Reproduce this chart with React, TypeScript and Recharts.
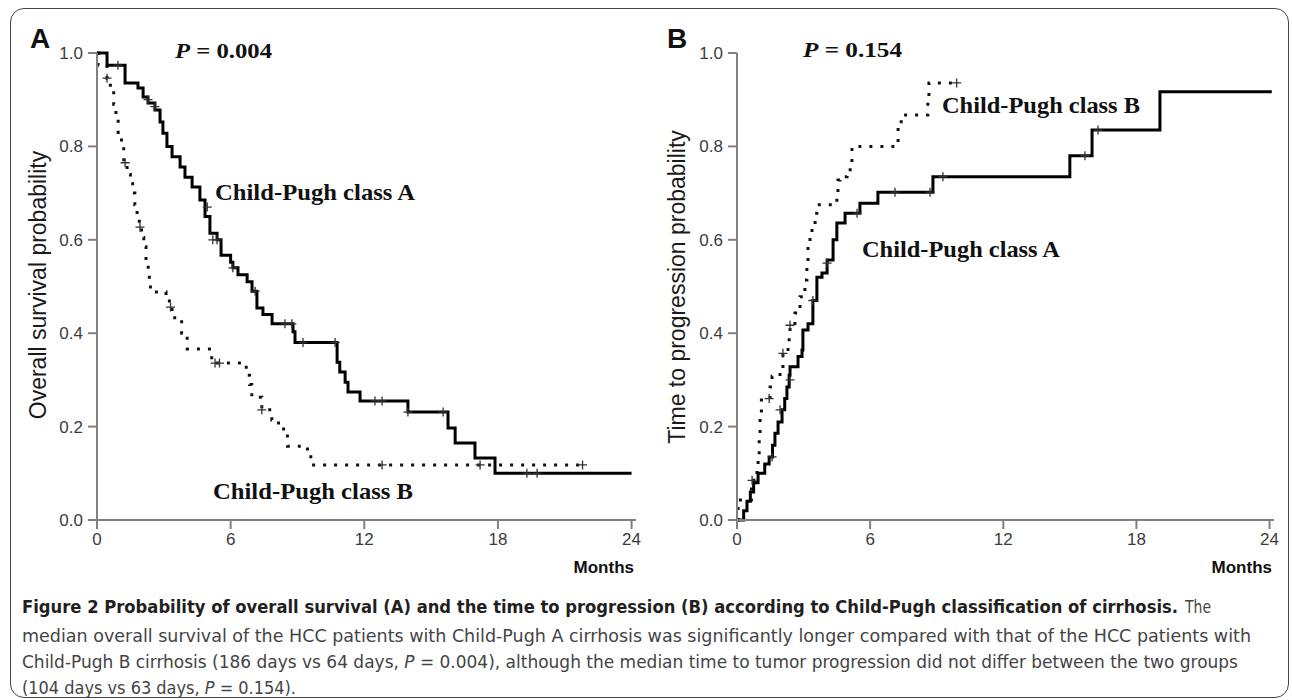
import React from "react";
import { ComposedChart, Line, Scatter, XAxis, YAxis } from "recharts";

type Pt = { t: number; s: number };
const toPts = (rows: number[][]): Pt[] => rows.map(([t, s]) => ({ t, s }));

const monthTicks = [0, 6, 12, 18, 24];
const probTicks = [0, 0.2, 0.4, 0.6, 0.8, 1.0];

// Panel A: overall survival, [month, probability]
const osClassA = toPts([
  [0, 1.0], [0.45, 0.974], [1.26, 0.936], [1.84, 0.925], [2.07, 0.906], [2.29, 0.893],
  [2.6, 0.878], [2.83, 0.852], [2.96, 0.828], [3.14, 0.8], [3.37, 0.778], [3.73, 0.756],
  [3.95, 0.734], [4.27, 0.713], [4.62, 0.685], [4.85, 0.65], [5.07, 0.614], [5.39, 0.6],
  [5.57, 0.567], [6.0, 0.552], [6.1, 0.54], [6.33, 0.525], [6.74, 0.51], [6.96, 0.49],
  [7.18, 0.454], [7.45, 0.44], [7.86, 0.42], [8.8, 0.403], [8.89, 0.38], [10.78, 0.338],
  [10.9, 0.317], [11.14, 0.295], [11.27, 0.274], [11.81, 0.255], [13.96, 0.231],
  [15.76, 0.197], [16.08, 0.165], [16.97, 0.133], [17.87, 0.1], [24.0, 0.1],
]);
const osClassB = toPts([
  [0, 1.0], [0.05, 0.974], [0.45, 0.946], [0.6, 0.92], [0.75, 0.89], [0.85, 0.86],
  [0.95, 0.83], [1.1, 0.8], [1.2, 0.765], [1.35, 0.74], [1.5, 0.72], [1.6, 0.7],
  [1.7, 0.675], [1.8, 0.65], [1.9, 0.627], [2.0, 0.605], [2.1, 0.585], [2.2, 0.56],
  [2.3, 0.535], [2.35, 0.514], [2.4, 0.488], [3.1, 0.475], [3.25, 0.456], [3.37, 0.433],
  [3.8, 0.4], [4.05, 0.366], [5.15, 0.336], [6.7, 0.31], [6.85, 0.29], [6.95, 0.263],
  [7.4, 0.236], [7.85, 0.214], [8.15, 0.195], [8.55, 0.158], [9.45, 0.139], [9.6, 0.118],
  [22.0, 0.118],
]);
const osCensorA = toPts([
  [0.94, 0.974], [2.29, 0.9], [2.6, 0.885], [4.95, 0.67], [5.2, 0.6], [5.39, 0.6],
  [6.1, 0.54], [7.1, 0.49], [8.44, 0.42], [8.75, 0.42], [9.25, 0.38], [10.69, 0.38],
  [12.48, 0.255], [12.8, 0.255], [13.96, 0.231], [15.54, 0.231], [19.3, 0.1], [19.76, 0.1],
]);
const osCensorB = toPts([
  [0.45, 0.946], [1.26, 0.765], [1.93, 0.627], [3.3, 0.456], [5.3, 0.336], [5.5, 0.336],
  [7.4, 0.236], [12.8, 0.118], [17.2, 0.118], [21.8, 0.118],
]);

// Panel B: time to progression, [month, probability]
const ttpClassA = toPts([
  [0, 0], [0.3, 0.02], [0.45, 0.04], [0.6, 0.06], [0.75, 0.08], [0.95, 0.1], [1.25, 0.12],
  [1.45, 0.135], [1.6, 0.16], [1.71, 0.186], [1.85, 0.21], [2.03, 0.236], [2.15, 0.26],
  [2.25, 0.285], [2.35, 0.31], [2.39, 0.328], [2.75, 0.35], [2.93, 0.364], [2.97, 0.407],
  [3.2, 0.42], [3.42, 0.47], [3.6, 0.52], [3.83, 0.529], [4.06, 0.557], [4.33, 0.6],
  [4.5, 0.636], [4.87, 0.657], [5.54, 0.678], [6.35, 0.702], [8.83, 0.735], [15.0, 0.78],
  [16.0, 0.835], [19.06, 0.917], [24.1, 0.917],
]);
const ttpClassB = toPts([
  [0, 0], [0.05, 0.043], [0.65, 0.085], [0.9, 0.11], [0.95, 0.135], [1.0, 0.18],
  [1.04, 0.23], [1.1, 0.257], [1.49, 0.285], [1.58, 0.308], [1.94, 0.32], [2.07, 0.357],
  [2.3, 0.38], [2.35, 0.4], [2.39, 0.417], [2.61, 0.443], [2.84, 0.478], [3.06, 0.514],
  [3.15, 0.55], [3.2, 0.593], [3.29, 0.61], [3.38, 0.627], [3.52, 0.657], [3.6, 0.675],
  [4.5, 0.69], [4.55, 0.728], [4.64, 0.735], [4.96, 0.743], [5.1, 0.77], [5.18, 0.8],
  [7.26, 0.842], [7.4, 0.867], [8.6, 0.9], [8.65, 0.936], [9.9, 0.936],
]);
const ttpCensorA = toPts([
  [1.58, 0.135], [1.94, 0.236], [2.39, 0.3], [3.42, 0.47], [4.06, 0.55], [5.41, 0.657],
  [7.12, 0.702], [8.7, 0.702], [9.28, 0.735], [15.68, 0.78], [16.27, 0.835],
]);
const ttpCensorB = toPts([
  [0.68, 0.085], [1.45, 0.26], [2.07, 0.357], [2.39, 0.417], [9.9, 0.936],
]);

const AXIS = "#808080";
const SANS = "'Liberation Sans', Arial, sans-serif";
const SERIF = "'Liberation Serif', 'Times New Roman', serif";
const NARROW = "'Liberation Sans Narrow', 'DejaVu Sans Condensed', 'Roboto Condensed', Roboto, sans-serif";

function CensorMark(props: any) {
  const { cx, cy } = props;
  if (cx == null || cy == null) return null;
  return (
    <path
      d={`M${cx - 4.5},${cy}H${cx + 4.5}M${cx},${cy - 4.5}V${cy + 4.5}`}
      stroke="#333"
      strokeWidth={1.3}
      fill="none"
    />
  );
}

interface PanelProps {
  left: number;
  width: number;
  right: number;
  solid: Pt[];
  dotted: Pt[];
  solidCensor: Pt[];
  dottedCensor: Pt[];
}

function KMPanel({ left, width, right, solid, dotted, solidCensor, dottedCensor }: PanelProps) {
  const tick = { fontFamily: SANS, fontSize: 17, fill: "#3c3c3c" };
  return (
    <div style={{ position: "absolute", left, top: 0 }}>
      <ComposedChart
        width={width}
        height={560}
        margin={{ top: 53, right, bottom: 10, left: 37 }}
      >
        <XAxis
          dataKey="t"
          type="number"
          domain={[0, 24.2]}
          ticks={monthTicks}
          height={30}
          tickSize={9}
          tickMargin={4}
          axisLine={{ stroke: AXIS, strokeWidth: 2 }}
          tickLine={{ stroke: AXIS, strokeWidth: 2 }}
          tick={tick}
        />
        <YAxis
          type="number"
          domain={[0, 1]}
          ticks={probTicks}
          width={60}
          tickSize={9}
          tickMargin={5}
          tickFormatter={(v: number) => v.toFixed(1)}
          axisLine={{ stroke: AXIS, strokeWidth: 2 }}
          tickLine={{ stroke: AXIS, strokeWidth: 2 }}
          tick={tick}
        />
        <Line
          data={dotted}
          dataKey="s"
          type="stepAfter"
          stroke="#111"
          strokeWidth={3}
          strokeDasharray="3 8"
          dot={false}
          isAnimationActive={false}
        />
        <Line
          data={solid}
          dataKey="s"
          type="stepAfter"
          stroke="#000"
          strokeWidth={3}
          dot={false}
          isAnimationActive={false}
        />
        <Scatter data={dottedCensor} dataKey="s" shape={CensorMark} isAnimationActive={false} />
        <Scatter data={solidCensor} dataKey="s" shape={CensorMark} isAnimationActive={false} />
      </ComposedChart>
    </div>
  );
}

export default function App() {
  const serifBold = { fontFamily: SERIF, fontWeight: 700, fontSize: 23, fill: "#111" };
  const pStyle = { fontFamily: SERIF, fontWeight: 700, fontSize: 21, fill: "#111" };
  return (
    <div
      style={{
        position: "absolute",
        left: 0,
        top: 0,
        width: 1292,
        height: 700,
        background: "#fff",
        overflow: "hidden",
      }}
    >
      <div
        style={{
          position: "absolute",
          left: 10,
          top: 8,
          width: 1279,
          height: 690,
          border: "1.5px solid #444",
          borderRadius: 14,
          boxSizing: "border-box",
        }}
      />
      <KMPanel
        left={0}
        width={660}
        right={24}
        solid={osClassA}
        dotted={osClassB}
        solidCensor={osCensorA}
        dottedCensor={osCensorB}
      />
      <KMPanel
        left={640}
        width={652}
        right={18}
        solid={ttpClassA}
        dotted={ttpClassB}
        solidCensor={ttpCensorA}
        dottedCensor={ttpCensorB}
      />
      <svg
        width={1292}
        height={700}
        style={{ position: "absolute", left: 0, top: 0, pointerEvents: "none" }}
      >
        <text x={30} y={48} fontFamily={SANS} fontWeight={700} fontSize={28} fill="#111">A</text>
        <text x={667} y={48} fontFamily={SANS} fontWeight={700} fontSize={28} fill="#111">B</text>

        <text x={175} y={58} {...pStyle} textLength={97} lengthAdjust="spacingAndGlyphs">
          <tspan fontStyle="italic">P</tspan> = 0.004
        </text>
        <text x={803} y={57} {...pStyle} textLength={99} lengthAdjust="spacingAndGlyphs">
          <tspan fontStyle="italic">P</tspan> = 0.154
        </text>

        <text x={215} y={200} {...serifBold} textLength={200} lengthAdjust="spacingAndGlyphs">Child-Pugh class A</text>
        <text x={213} y={499} {...serifBold} textLength={200} lengthAdjust="spacingAndGlyphs">Child-Pugh class B</text>
        <text x={942} y={113} {...serifBold} textLength={198} lengthAdjust="spacingAndGlyphs">Child-Pugh class B</text>
        <text x={862} y={257} {...serifBold} textLength={198} lengthAdjust="spacingAndGlyphs">Child-Pugh class A</text>

        <text
          transform="translate(46,285) rotate(-90)"
          textAnchor="middle"
          fontFamily={SANS}
          fontSize={23}
          fill="#1a1a1a"
        >
          Overall survival probability
        </text>
        <text
          transform="translate(685,287) rotate(-90)"
          textAnchor="middle"
          fontFamily={SANS}
          fontSize={23}
          fill="#1a1a1a"
        >
          Time to progression probability
        </text>

        <text x={634} y={573} textAnchor="end" fontFamily={SANS} fontWeight={700} fontSize={17} fill="#111">Months</text>
        <text x={1272} y={573} textAnchor="end" fontFamily={SANS} fontWeight={700} fontSize={17} fill="#111">Months</text>

        <text x={22} y={613} fontFamily={NARROW} fontWeight={700} fontSize={18} fill="#231f20" textLength={1156} lengthAdjust="spacingAndGlyphs">
          Figure 2 Probability of overall survival (A) and the time to progression (B) according to Child-Pugh classification of cirrhosis.
        </text>
        <text x={1185} y={613} fontFamily={NARROW} fontSize={18} fill="#444" textLength={26} lengthAdjust="spacingAndGlyphs">The</text>
        <text x={22} y={642} fontFamily={NARROW} fontSize={18} fill="#444" textLength={1229} lengthAdjust="spacingAndGlyphs">
          median overall survival of the HCC patients with Child-Pugh A cirrhosis was significantly longer compared with that of the HCC patients with
        </text>
        <text x={22} y={668} fontFamily={NARROW} fontSize={18} fill="#444" textLength={1216} lengthAdjust="spacingAndGlyphs">
          Child-Pugh B cirrhosis (186 days vs 64 days, <tspan fontStyle="italic">P</tspan> = 0.004), although the median time to tumor progression did not differ between the two groups
        </text>
        <text x={22} y={694} fontFamily={NARROW} fontSize={18} fill="#444" textLength={274} lengthAdjust="spacingAndGlyphs">
          (104 days vs 63 days, <tspan fontStyle="italic">P</tspan> = 0.154).
        </text>
      </svg>
    </div>
  );
}
